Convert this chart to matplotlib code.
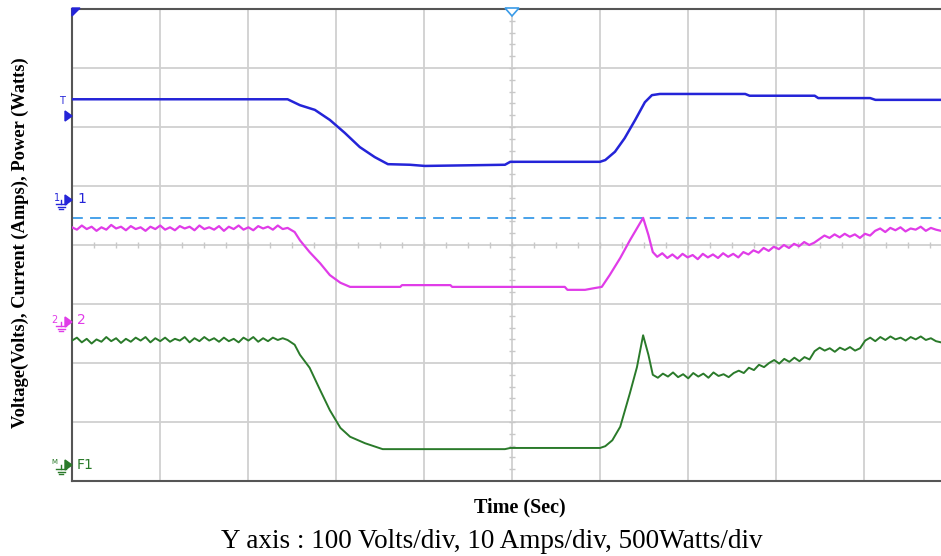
import matplotlib.pyplot as plt
import numpy as np
from matplotlib.patches import Polygon

# screen is in scope divisions: x 0..9.875 (right edge cropped), y 0..8
x_max = 9.875
y_max = 8

# channel 1 : voltage (blue) - key points (div)
volt_x = [0.00, 2.45, 2.59, 2.76, 2.93, 3.10, 3.27, 3.44, 3.59, 3.84, 4.01, 4.92, 4.98,
          6.00, 6.06, 6.17, 6.28, 6.40, 6.51, 6.59, 6.68, 7.65, 7.70, 8.44, 8.48, 9.07,
          9.13, 9.875]
volt_y = [6.47, 6.47, 6.37, 6.29, 6.12, 5.90, 5.66, 5.49, 5.37, 5.36, 5.34, 5.36, 5.41,
          5.41, 5.44, 5.58, 5.81, 6.12, 6.42, 6.54, 6.56, 6.56, 6.53, 6.53, 6.49, 6.49,
          6.46, 6.46]

# channel 2 : current (magenta)
curr_pre = [4.30, 4.26, 4.33, 4.27, 4.31, 4.24, 4.30, 4.26, 4.34, 4.28, 4.31, 4.25,
            4.32, 4.27, 4.30, 4.24, 4.31, 4.27, 4.33, 4.26, 4.30, 4.25, 4.32, 4.28,
            4.31, 4.25, 4.33, 4.27, 4.30, 4.26, 4.32, 4.24, 4.31, 4.27, 4.33, 4.26,
            4.30, 4.25, 4.32, 4.28, 4.31, 4.26, 4.33, 4.27, 4.29]
curr_mid_x = [2.45, 2.53, 2.59, 2.70, 2.82, 2.93, 3.05, 3.16, 3.73, 3.75, 4.30, 4.32,
              5.60, 5.63, 5.83, 5.94, 6.02, 6.11, 6.23, 6.34, 6.49, 6.55, 6.60, 6.65]
curr_mid_y = [4.29, 4.22, 4.08, 3.88, 3.69, 3.49, 3.36, 3.29, 3.29, 3.32, 3.32, 3.29,
              3.29, 3.24, 3.24, 3.27, 3.29, 3.49, 3.78, 4.08, 4.46, 4.17, 3.88, 3.81]
curr_post = [3.80, 3.86, 3.78, 3.84, 3.77, 3.85, 3.79, 3.83, 3.76, 3.85, 3.79, 3.84,
             3.78, 3.86, 3.80, 3.85, 3.79,
             3.88, 3.84, 3.91, 3.87, 3.95, 3.90,
             3.97, 3.93, 4.00, 3.95, 4.02, 3.98, 4.05, 4.00, 4.04,
             4.10, 4.16, 4.12, 4.18, 4.13, 4.19, 4.14, 4.18, 4.12, 4.19, 4.16,
             4.24, 4.28, 4.22, 4.29, 4.25, 4.30, 4.23, 4.28, 4.26, 4.31, 4.24, 4.29,
             4.26, 4.24]

# math channel F1 : power (green)
pow_pre = [2.38, 2.43, 2.35, 2.41, 2.33, 2.40, 2.36, 2.44, 2.37, 2.42, 2.34, 2.41,
           2.36, 2.43, 2.38, 2.44, 2.35, 2.42, 2.37, 2.43, 2.36, 2.41, 2.38, 2.44,
           2.35, 2.42, 2.37, 2.44, 2.38, 2.42, 2.36, 2.43, 2.37, 2.41, 2.35, 2.43,
           2.38, 2.44, 2.36, 2.42, 2.37, 2.43, 2.39, 2.42, 2.39]
pow_mid_x = [2.45, 2.53, 2.59, 2.70, 2.82, 2.93, 3.05, 3.16, 3.33, 3.53, 4.92, 4.98,
             6.00, 6.06, 6.14, 6.23, 6.34, 6.42, 6.49, 6.55, 6.60]
pow_mid_y = [2.39, 2.31, 2.14, 1.92, 1.54, 1.20, 0.90, 0.75, 0.64, 0.54, 0.54, 0.56,
             0.56, 0.59, 0.69, 0.92, 1.49, 1.93, 2.47, 2.14, 1.83]
pow_post = [1.80, 1.75, 1.82, 1.77, 1.84, 1.76, 1.81, 1.74, 1.83, 1.77, 1.82, 1.75,
            1.84, 1.78, 1.81, 1.76, 1.83,
            1.87, 1.83, 1.92, 1.88, 1.97, 1.93,
            2.00, 2.05, 1.99, 2.07, 2.02, 2.09, 2.03, 2.10, 2.06,
            2.20, 2.26, 2.21, 2.25, 2.19, 2.26, 2.22, 2.27, 2.21, 2.25,
            2.38, 2.43, 2.37, 2.44, 2.39, 2.45, 2.40, 2.43, 2.38, 2.44, 2.40, 2.45,
            2.39, 2.42, 2.37, 2.35]

ref_level = 4.46  # dashed channel-1 reference line

c_volt = '#2424d8'
c_curr = '#e03ce8'
c_pow = '#2a7a2a'
c_ref = '#3a9be8'


def trace(pre, mid_x, mid_y, post):
    # ripple segments are sampled evenly between the key points around them
    xs = list(np.linspace(0, mid_x[0], len(pre))) + mid_x[1:-1] + \
        list(np.linspace(mid_x[-1], x_max, len(post)))
    ys = pre + mid_y[1:-1] + post
    return xs, ys


W, H = 941, 556
fig = plt.figure(figsize=(W / 100, H / 100), dpi=100)
ax = fig.add_axes([72 / W, 1 - 481 / H, 1 - 72 / W, (481 - 9) / H])
ax.set_xlim(0, x_max)
ax.set_ylim(0, y_max)

for gx in range(1, 10):
    ax.axvline(gx, color='#d0d0d0', lw=1.3, zorder=1)
for gy in range(1, 8):
    ax.axhline(gy, color='#d0d0d0', lw=1.3, zorder=1)
# small ticks along the centre lines
hx = np.arange(0.25, x_max, 0.25)
ax.plot(hx, [4] * len(hx), '|', color='#c8c8c8', ms=4, mew=1, zorder=1)
vy = np.arange(0.2, 7.9, 0.2)
ax.plot([5] * len(vy), vy, '_', color='#c8c8c8', ms=4, mew=1, zorder=1)

ax.axhline(ref_level, color=c_ref, lw=1.3, ls=(0, (6, 4)), zorder=2)

ax.plot(volt_x, volt_y, color=c_volt, lw=1.8, zorder=3)
cx, cy = trace(curr_pre, curr_mid_x, curr_mid_y, curr_post)
ax.plot(cx, cy, color=c_curr, lw=1.6, zorder=3)
px, py = trace(pow_pre, pow_mid_x, pow_mid_y, pow_post)
ax.plot(px, py, color=c_pow, lw=1.4, zorder=3)

ax.set_xticks([])
ax.set_yticks([])
for s in ['left', 'top', 'bottom']:
    ax.spines[s].set_color('#555555')
    ax.spines[s].set_linewidth(1.5)
ax.spines['right'].set_visible(False)


def fpos(x, y):
    return x / W, 1 - y / H


def ground(x, y, color):
    # small earth symbol below the channel arrow
    fig.add_artist(plt.Line2D(*zip(fpos(x, y), fpos(x, y + 4)), color=color, lw=1))
    for i, hw in enumerate([5, 3.5, 2]):
        yy = y + 4 + 2.5 * i
        fig.add_artist(plt.Line2D(*zip(fpos(x - hw, yy), fpos(x + hw, yy)), color=color, lw=1))


def arrow(x, y, color):
    pts = [fpos(x - 5, y - 5), fpos(x - 5, y + 5), fpos(x + 2, y)]
    fig.add_artist(Polygon(pts, closed=True, transform=fig.transFigure,
                           facecolor=color, edgecolor=color, lw=1))


fig.text(*fpos(62, 101), 'T', color=c_volt, fontsize=7, ha='center', va='center')
arrow(70, 116, c_volt)

fig.text(*fpos(57, 198), '1', color=c_volt, fontsize=7, ha='center', va='center')
arrow(70, 200, c_volt)
ground(61, 200, c_volt)
fig.text(*fpos(77, 199), '1', color=c_volt, fontsize=10, ha='left', va='center')

fig.text(*fpos(54, 320), '2', color=c_curr, fontsize=7, ha='center', va='center')
arrow(70, 322, c_curr)
ground(61, 322, c_curr)
fig.text(*fpos(77, 320), '2', color=c_curr, fontsize=10, ha='left', va='center')

fig.text(*fpos(54, 462), 'M', color=c_pow, fontsize=5, ha='center', va='center')
arrow(70, 465, c_pow)
ground(61, 465, c_pow)
fig.text(*fpos(77, 465), 'F1', color=c_pow, fontsize=10, ha='left', va='center')

# trigger markers on the top edge
fig.add_artist(Polygon([fpos(72, 8), fpos(80, 8), fpos(72, 16)], closed=True,
                       transform=fig.transFigure, facecolor=c_volt, edgecolor=c_volt))
fig.add_artist(Polygon([fpos(505, 8), fpos(519, 8), fpos(512, 16)], closed=True,
                       transform=fig.transFigure, facecolor='white', edgecolor=c_ref, lw=1.2))

serif = ['Liberation Serif', 'DejaVu Serif']
fig.text(*fpos(20, 243), 'Voltage(Volts), Current (Amps), Power (Watts)', rotation=90,
         family=serif, fontweight='bold', fontsize=13.3, ha='center', va='center')
fig.text(*fpos(520, 507), 'Time (Sec)', family=serif, fontweight='bold', fontsize=14.5,
         ha='center', va='center')
fig.text(*fpos(492, 541), 'Y axis : 100 Volts/div, 10 Amps/div, 500Watts/div', family=serif,
         fontsize=19.5, ha='center', va='center')

fig.savefig('out.png', dpi=100)
